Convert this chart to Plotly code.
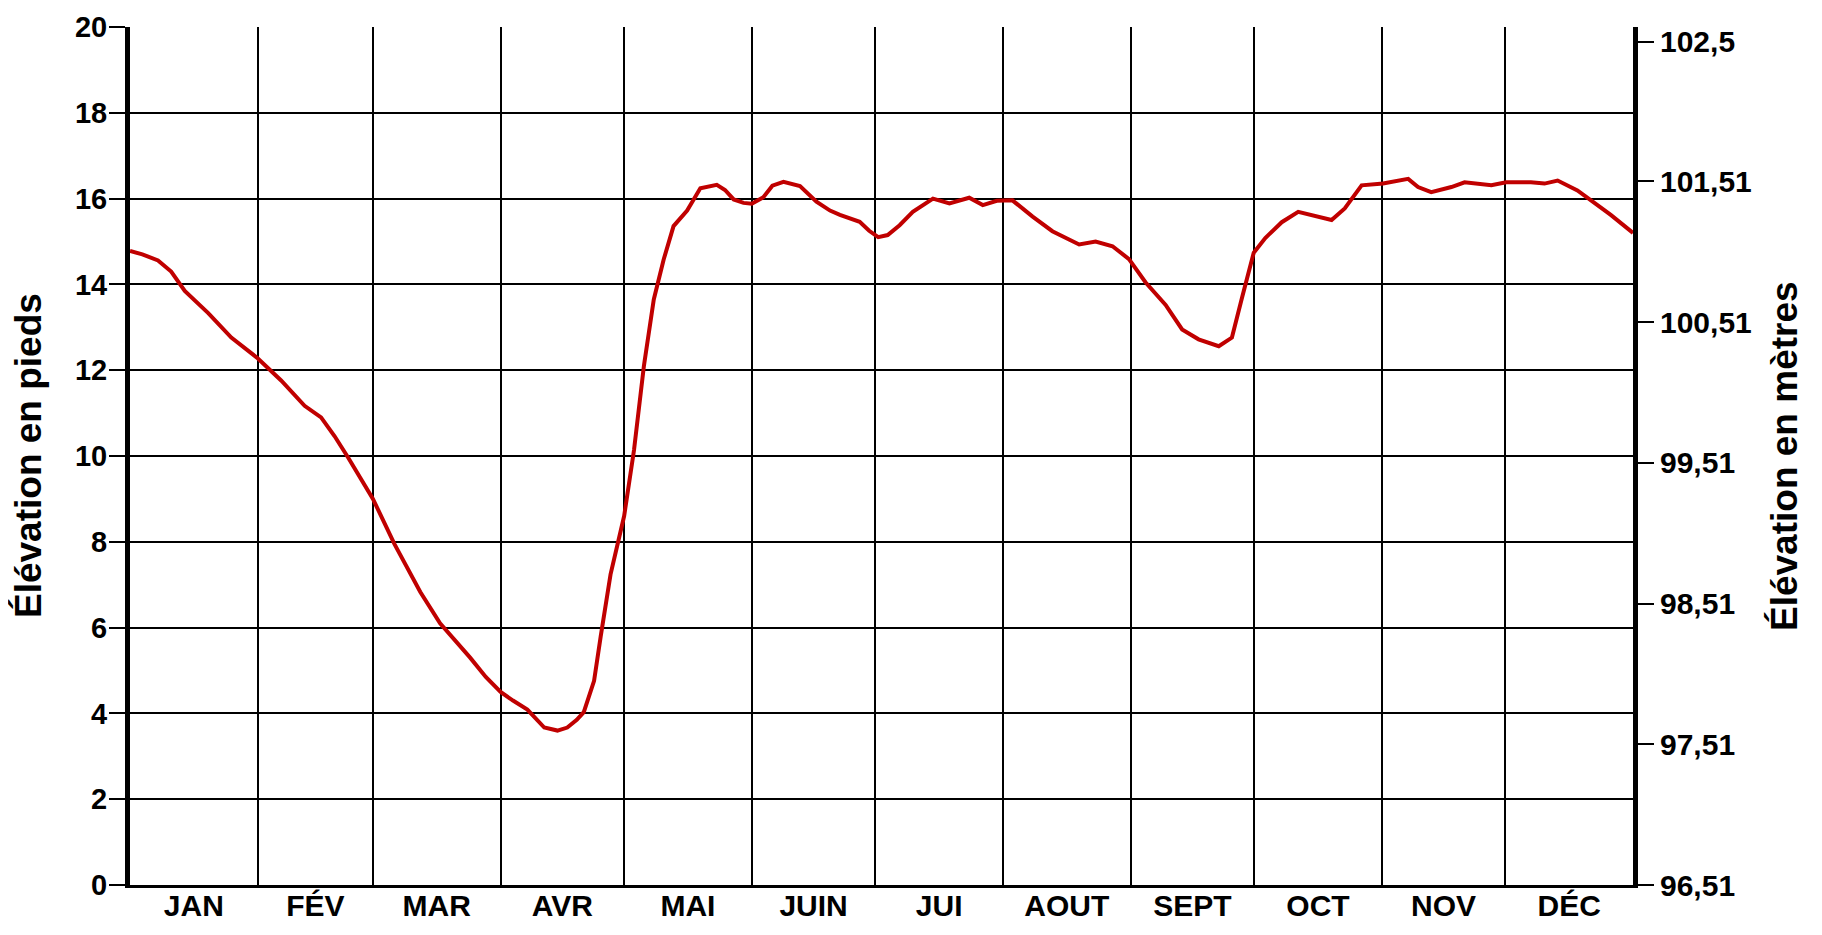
import plotly.graph_objects as go

# ---- data ----
months = ["JAN", "FÉV", "MAR", "AVR", "MAI", "JUIN", "JUI", "AOUT", "SEPT", "OCT", "NOV", "DÉC"]
month_days = [31, 28, 31, 30, 31, 30, 31, 31, 30, 31, 30, 31]

day_of_year = [0, 3, 6.8, 10, 13.3, 16, 19, 24.6, 28, 31, 36.7, 42.4, 46.4, 49.7, 53, 56, 59,
               64.2, 70.5, 75.3, 79, 82.6, 86.4, 90, 93, 96.5, 100.6, 103.8, 106.2, 108.5, 110.2,
               112.7, 114.3, 116.7, 120, 122.4, 124.8, 127.2, 129.6, 132, 135.3, 138.5, 142.5,
               144.5, 146.6, 149, 151, 153.8, 156, 158.7, 162.7, 166.7, 170, 172.4, 177.2, 179.5,
               181.7, 184, 186.9, 190.1, 195, 199, 203.8, 207.1, 210.5, 214.3, 219.2, 224, 230.5,
               234.5, 238.6, 242.6, 246.6, 251.5, 255.5, 259.5, 264.4, 267.6, 270, 272.9, 275.7,
               279.7, 283.7, 286.5, 289.4, 291.8, 295, 299.1, 304.3, 310.4, 312.8, 316, 320.9,
               324.1, 330.6, 334.2, 340.2, 343.5, 346.7, 351.5, 354.8, 359.6, 365]
elevation_ft = [14.78, 14.7, 14.56, 14.3, 13.85, 13.6, 13.33, 12.76, 12.5, 12.28, 11.76, 11.17,
                10.9, 10.46, 9.96, 9.5, 9.0, 7.95, 6.83, 6.1, 5.7, 5.3, 4.85, 4.5, 4.3, 4.09, 3.67,
                3.6, 3.67, 3.85, 4.03, 4.76, 5.79, 7.24, 8.6, 10.14, 12.1, 13.65, 14.58, 15.36,
                15.72, 16.24, 16.32, 16.2, 15.98, 15.9, 15.88, 16.03, 16.3, 16.39, 16.29, 15.93,
                15.72, 15.62, 15.46, 15.25, 15.1, 15.15, 15.38, 15.69, 16.0, 15.89, 16.02, 15.85,
                15.95, 15.96, 15.58, 15.24, 14.93, 15.0, 14.89, 14.59, 14.05, 13.52, 12.95, 12.72,
                12.56, 12.76, 13.67, 14.74, 15.08, 15.45, 15.69, 15.62, 15.54, 15.5, 15.77, 16.31,
                16.35, 16.46, 16.27, 16.15, 16.27, 16.38, 16.31, 16.38, 16.38, 16.35, 16.42, 16.19,
                15.96, 15.62, 15.2]

left_ticks = [0, 2, 4, 6, 8, 10, 12, 14, 16, 18, 20]
metre_ticks = [96.51, 97.51, 98.51, 99.51, 100.51, 101.51, 102.5]
metre_labels = ["96,51", "97,51", "98,51", "99,51", "100,51", "101,51", "102,5"]
metre_base = 96.51
ft_per_m = 1 / 0.3048

# ---- derived positions ----
month_starts = []
acc = 0
for d in month_days:
    month_starts.append(acc)
    acc += d
year_len = acc
month_mids = [s + d / 2 for s, d in zip(month_starts, month_days)]
top_m = metre_base + left_ticks[-1] / ft_per_m

FONT = "Liberation Sans, Arial, sans-serif"
W, H = 1806, 919
ML, MR, MT, MB = 122, 181, 19, 42
PW = W - ML - MR

fig = go.Figure()
fig.add_trace(go.Scatter(x=day_of_year, y=elevation_ft, mode="lines",
                         line=dict(color="#c00000", width=4), showlegend=False,
                         hoverinfo="x+y"))
fig.add_trace(go.Scatter(x=[day_of_year[0]], y=[metre_base], yaxis="y2", mode="markers",
                         marker=dict(opacity=0), showlegend=False, hoverinfo="skip"))

fig.update_layout(
    width=W, height=H,
    margin=dict(l=ML, r=MR, t=MT, b=MB, autoexpand=False),
    paper_bgcolor="white", plot_bgcolor="white",
    font=dict(family=FONT, color="black"),
    xaxis=dict(
        range=[0, year_len], tickmode="array", tickvals=month_mids, ticktext=months,
        ticks="", ticklabelstandoff=-8,
        tickfont=dict(size=30, family=FONT, color="black", weight="bold"),
        showgrid=False, zeroline=False, automargin=False,
        showline=True, linecolor="black", linewidth=3,
        minor=dict(tickmode="array", tickvals=month_starts[1:], showgrid=True,
                   gridcolor="black", gridwidth=1.5, ticks=""),
    ),
    yaxis=dict(
        range=[0, 20], tickmode="array", tickvals=left_ticks,
        ticks="outside", ticklen=16, tickwidth=1.5, tickcolor="black",
        ticklabelstandoff=-4,
        tickfont=dict(size=29, family=FONT, color="black", weight="bold"),
        showgrid=True, gridcolor="black", gridwidth=1.5, zeroline=False, automargin=False,
        showline=True, linecolor="black", linewidth=5,
    ),
    yaxis2=dict(
        overlaying="y", side="right", anchor="x",
        range=[metre_base, top_m], tickmode="array", tickvals=metre_ticks, ticktext=metre_labels,
        ticks="outside", ticklen=16, tickwidth=1.5, tickcolor="black",
        tickfont=dict(size=30, family=FONT, color="black", weight="bold"),
        showgrid=False, zeroline=False, automargin=False,
        showline=True, linecolor="black", linewidth=5,
    ),
    annotations=[
        dict(text="Élévation en pieds", xref="paper", yref="paper",
             x=(20 - ML) / PW, y=0.5, xanchor="center", yanchor="middle",
             textangle=-90, showarrow=False,
             font=dict(size=37, family=FONT, color="black", weight="bold")),
        dict(text="Élévation en mètres", xref="paper", yref="paper",
             x=(1776 - ML) / PW, y=0.5, xanchor="center", yanchor="middle",
             textangle=-90, showarrow=False,
             font=dict(size=37, family=FONT, color="black", weight="bold")),
    ],
)

fig.write_html("out.html")
